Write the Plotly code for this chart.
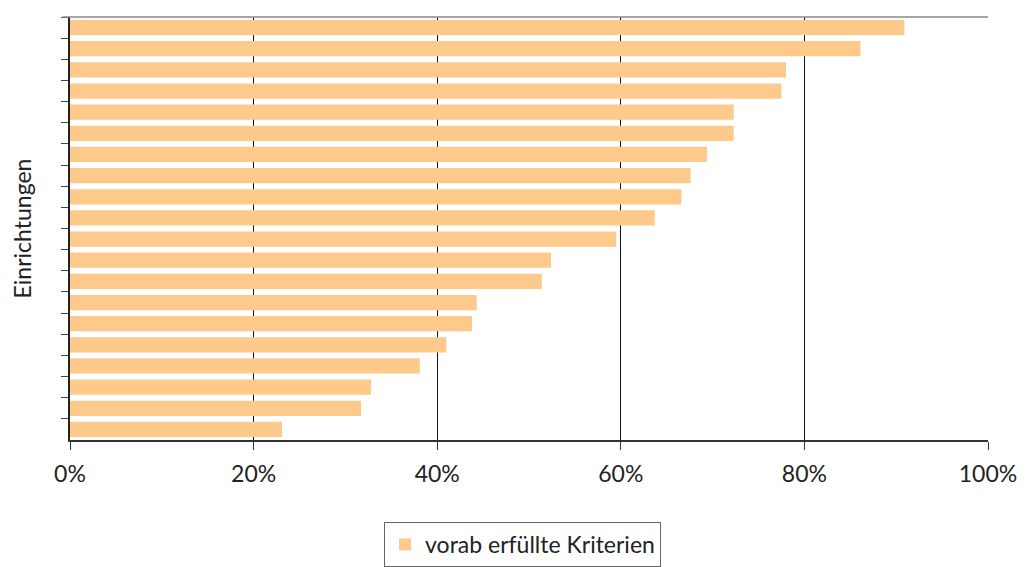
import plotly.graph_objects as go

# Data (top to bottom)
einrichtungen = [f"E{i}" for i in range(1, 21)]
werte = [90.9, 86.1, 78.0, 77.5, 72.3, 72.3, 69.4, 67.6, 66.6, 63.7,
         59.5, 52.4, 51.4, 44.3, 43.8, 41.0, 38.1, 32.8, 31.7, 23.1]
x_ticks = [0, 20, 40, 60, 80, 100]
x_labels = ["0%", "20%", "40%", "60%", "80%", "100%"]
serie_name = "vorab erfüllte Kriterien"

FONT = "Lato"
H, T, B = 567, 17, 20
plot_h = H - T - B
y_bottom_px = 440
dom_low = (H - B - y_bottom_px) / plot_h
legend_top_px = 522
legend_y = (H - B - legend_top_px) / plot_h

fig = go.Figure()
fig.add_trace(go.Bar(
    x=werte, y=einrichtungen, orientation="h",
    name=serie_name,
    marker=dict(color="#FDCA8C", line=dict(width=0)),
    showlegend=True,
))

fig.update_layout(
    width=1028, height=H,
    margin=dict(l=70, r=40, t=T, b=B, autoexpand=False),
    paper_bgcolor="white", plot_bgcolor="white",
    bargap=0.28,
    font=dict(family=FONT, size=23, color="#222"),
    showlegend=True,
    legend=dict(
        orientation="h", x=0.493, xanchor="center", y=legend_y, yanchor="top",
        bordercolor="#666", borderwidth=1, font=dict(size=23, family=FONT),
        itemsizing="constant",
    ),
    xaxis=dict(
        range=[0, 100], tickvals=x_ticks, ticktext=x_labels,
        showgrid=True, gridcolor="#111", gridwidth=1,
        showline=True, linecolor="#333", linewidth=1.5,
        ticks="outside", ticklen=8, tickcolor="#333",
        ticklabelstandoff=5, automargin=False,
        zeroline=False, tickfont=dict(size=23, family=FONT, color="#222"),
    ),
    yaxis=dict(
        domain=[dom_low, 1],
        autorange="reversed", type="category",
        showticklabels=False, showgrid=False, automargin=False,
        showline=True, linecolor="#222", linewidth=1.5,
        ticks="outside", ticklen=7, tickcolor="#444", tickson="boundaries",
        title=dict(text="Einrichtungen", font=dict(size=23, family=FONT), standoff=30),
    ),
    shapes=[dict(type="line", xref="paper", yref="paper", x0=-0.008, x1=1.0,
                 y0=1, y1=1, line=dict(color="#888", width=1.5))],
)

fig.write_html("out.html")
